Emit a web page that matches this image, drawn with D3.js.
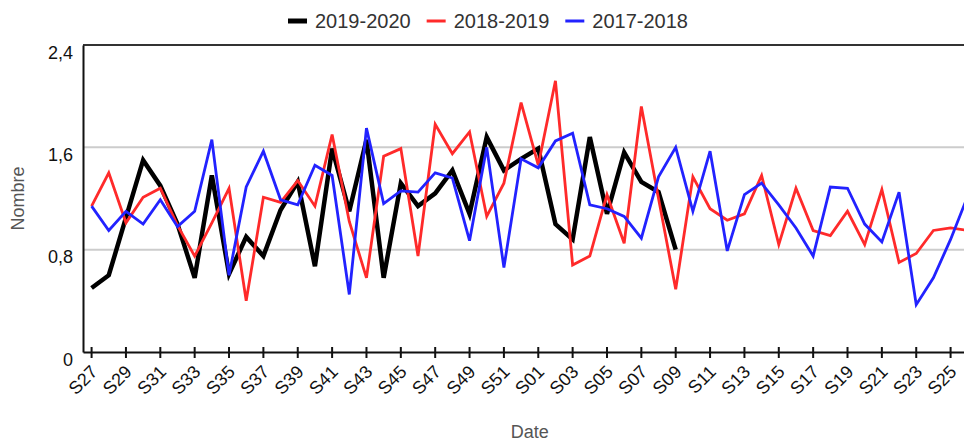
<!DOCTYPE html>
<html>
<head>
<meta charset="utf-8">
<script src="https://cdn.jsdelivr.net/npm/d3@7"></script>
<style>
  html, body { margin: 0; padding: 0; background: #fff; }
  svg { display: block; overflow: hidden; }
  text { font-family: "Liberation Sans", Arial, sans-serif; }
</style>
</head>
<body>
<svg id="chart" width="964" height="443"></svg>
<script>
// Weekly counts, from week 27 to week 26 of the following year
const weeks = [
  "S27","S28","S29","S30","S31","S32","S33","S34","S35","S36","S37","S38","S39",
  "S40","S41","S42","S43","S44","S45","S46","S47","S48","S49","S50","S51","S52",
  "S01","S02","S03","S04","S05","S06","S07","S08","S09","S10","S11","S12","S13",
  "S14","S15","S16","S17","S18","S19","S20","S21","S22","S23","S24","S25","S26"
];

const season2019 = [
  0.50, 0.60, 1.05, 1.50, 1.30, 1.00, 0.58, 1.38, 0.61, 0.90, 0.75, 1.11, 1.33,
  0.67, 1.59, 1.10, 1.66, 0.58, 1.32, 1.14, 1.24, 1.42, 1.08, 1.68, 1.42, 1.51,
  1.59, 1.00, 0.88, 1.68, 1.08, 1.56, 1.33, 1.25, 0.80
];

const season2018 = [
  1.14, 1.40, 1.01, 1.21, 1.28, 0.99, 0.75, 1.01, 1.28, 0.40, 1.21, 1.17, 1.34,
  1.14, 1.70, 1.02, 0.58, 1.53, 1.59, 0.75, 1.78, 1.55, 1.72, 1.06, 1.32, 1.95,
  1.46, 2.12, 0.68, 0.75, 1.23, 0.85, 1.92, 1.20, 0.49, 1.37, 1.12, 1.03, 1.08,
  1.38, 0.84, 1.28, 0.95, 0.91, 1.10, 0.84, 1.27, 0.70, 0.77, 0.95, 0.97, 0.95
];

const season2017 = [
  1.14, 0.95, 1.10, 1.00, 1.19, 0.98, 1.10, 1.66, 0.60, 1.29, 1.57, 1.19, 1.15,
  1.46, 1.38, 0.45, 1.75, 1.16, 1.26, 1.25, 1.40, 1.36, 0.87, 1.60, 0.66, 1.51,
  1.44, 1.65, 1.71, 1.15, 1.12, 1.06, 0.89, 1.37, 1.60, 1.10, 1.57, 0.79, 1.23,
  1.32, 1.15, 0.97, 0.75, 1.29, 1.28, 1.00, 0.86, 1.25, 0.37, 0.58, 0.88, 1.22
];

const yTicks = [0, 0.8, 1.6, 2.4];
const xTickLabels = weeks.filter((w, i) => i % 2 === 0);

const seriesNames = ["2019-2020", "2018-2019", "2017-2018"];
const seriesColors = ["#000000", "#ff2a2a", "#2222ff"];
const seriesWidths = [4.5, 2.8, 2.8];
const seriesValues = [season2019, season2018, season2017];

const svg = d3.select("#chart");
const margin = { left: 83, top: 45, bottom: 352 };
const step = 17.18;

const x = d3.scaleBand()
  .domain(weeks)
  .range([margin.left, margin.left + step * weeks.length])
  .paddingInner(0).paddingOuter(0);

const y = d3.scaleLinear().domain([0, 2.4]).range([margin.bottom, margin.top]);

const fmt = v => d3.format(".1f")(v).replace(".", ",").replace(/,0$/, "");

// horizontal gridlines
svg.append("g")
  .selectAll("line")
  .data(yTicks.filter(t => t > 0 && t < 2.4))
  .join("line")
  .attr("x1", margin.left).attr("x2", x.range()[1])
  .attr("y1", d => y(d)).attr("y2", d => y(d))
  .attr("stroke", "#cccccc").attr("stroke-width", 2);

// top frame line
svg.append("line")
  .attr("x1", margin.left).attr("x2", x.range()[1])
  .attr("y1", y(2.4)).attr("y2", y(2.4))
  .attr("stroke", "#333").attr("stroke-width", 2);

// y axis
const yAxis = svg.append("g")
  .attr("transform", `translate(${margin.left},0)`)
  .call(d3.axisLeft(y).tickValues(yTicks).tickSize(0).tickFormat(fmt));
yAxis.select(".domain").attr("stroke", "#111").attr("stroke-width", 2);
yAxis.selectAll("text")
  .attr("x", -10).attr("dy", "13px")
  .attr("font-size", 18).attr("fill", "#111")
  .attr("font-family", "Liberation Sans, Arial, sans-serif");

// x axis with ticks every second week
const xAxis = svg.append("g")
  .attr("transform", `translate(0,${margin.bottom})`)
  .call(d3.axisBottom(x).tickValues(xTickLabels).tickSizeInner(6).tickSizeOuter(0));
xAxis.select(".domain").attr("stroke", "#111").attr("stroke-width", 2);
xAxis.selectAll(".tick line")
  .attr("y1", -5).attr("y2", 6)
  .attr("stroke", "#111").attr("stroke-width", 2);
xAxis.selectAll(".tick text")
  .attr("x", 0).attr("y", 0).attr("dy", 0)
  .attr("text-anchor", "end")
  .attr("transform", "translate(7,21) rotate(-45)")
  .attr("font-size", 18).attr("fill", "#111")
  .attr("font-family", "Liberation Sans, Arial, sans-serif");

// lines
const line = d3.line()
  .x((d, i) => x(weeks[i]) + x.bandwidth() / 2)
  .y(d => y(d));

const linesG = svg.append("g");
seriesValues.forEach((vals, k) => {
  linesG.append("path")
    .datum(vals)
    .attr("d", line)
    .attr("fill", "none")
    .attr("stroke", seriesColors[k])
    .attr("stroke-width", seriesWidths[k])
    .attr("stroke-linejoin", "miter");
});

// axis titles
const plotMidX = (x.range()[0] + x.range()[1]) / 2;
svg.append("text")
  .attr("x", plotMidX).attr("y", 438)
  .attr("text-anchor", "middle")
  .attr("font-size", 18).attr("fill", "#555")
  .text("Date");

svg.append("text")
  .attr("transform", `translate(24,${(margin.top + margin.bottom) / 2}) rotate(-90)`)
  .attr("text-anchor", "middle")
  .attr("font-size", 18).attr("fill", "#555")
  .text("Nombre");

// legend
const legend = svg.append("g");
let lx = 288;
seriesNames.forEach((name, k) => {
  legend.append("line")
    .attr("x1", lx).attr("x2", lx + 19)
    .attr("y1", 21).attr("y2", 21)
    .attr("stroke", seriesColors[k])
    .attr("stroke-width", k === 0 ? 5 : 3);
  const t = legend.append("text")
    .attr("x", lx + 27).attr("y", 28)
    .attr("font-size", 20).attr("fill", "#333")
    .text(name);
  lx += 27 + t.node().getComputedTextLength() + 16;
});
</script>
</body>
</html>
